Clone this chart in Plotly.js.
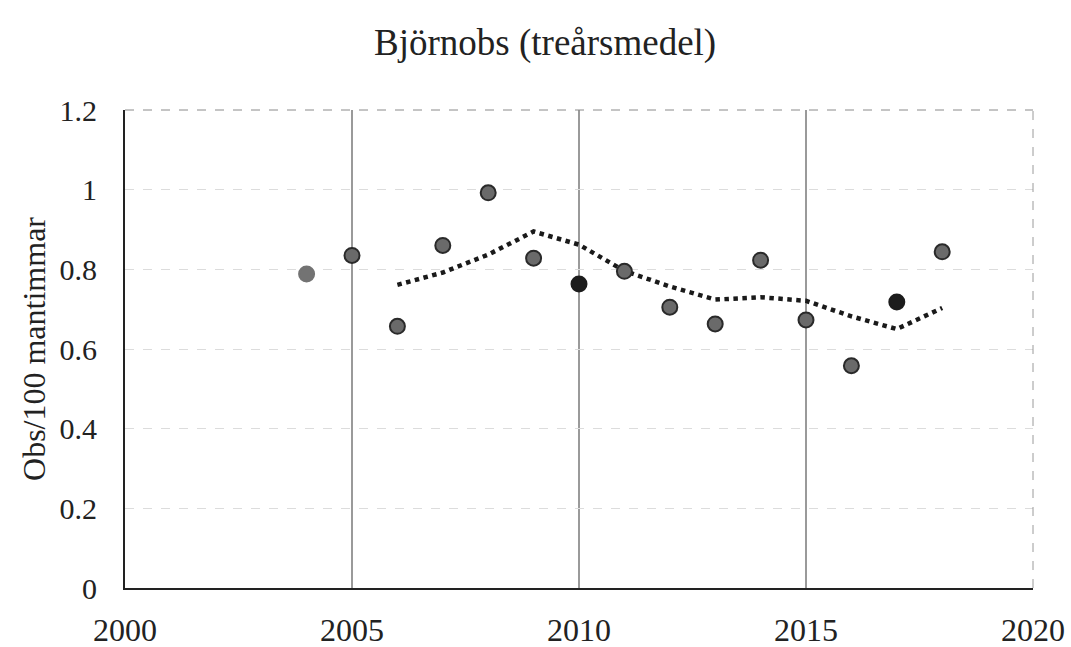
<!DOCTYPE html>
<html>
<head>
<meta charset="utf-8">
<script src="https://cdn.plot.ly/plotly-3.0.1.min.js"></script>
<style>html,body{margin:0;padding:0;background:#fff;}#chart{width:1071px;height:647px;}</style>
</head>
<body>
<div id="chart"></div>
<script>
// Observed values per year (Obs/100 mantimmar)
const years = [2004, 2005, 2006, 2007, 2008, 2009, 2010, 2011, 2012, 2013, 2014, 2015, 2016, 2017, 2018];
const obs   = [0.788, 0.835, 0.657, 0.860, 0.992, 0.828, 0.763, 0.795, 0.705, 0.663, 0.823, 0.673, 0.558, 0.718, 0.844];
// Point shade groups: light gray (2004), gray with ring, black (2010, 2017)
const pointKind = ['light','ring','ring','ring','ring','ring','black','ring','ring','ring','ring','ring','ring','black','ring'];
// Three-year mean (dotted line)
const trendYears = [2006, 2007, 2008, 2009, 2010, 2011, 2012, 2013, 2014, 2015, 2016, 2017, 2018];
const trendVals  = [0.761, 0.792, 0.837, 0.895, 0.862, 0.796, 0.757, 0.724, 0.730, 0.721, 0.682, 0.650, 0.703];
const xTicks = [2000, 2005, 2010, 2015, 2020];
const yTicks = [0, 0.2, 0.4, 0.6, 0.8, 1, 1.2];
const yTickText = ['0', '0.2', '0.4', '0.6', '0.8', '1', '1.2'];

const fillFor = {light: '#737373', ring: '#6a6a6a', black: '#1c1c1c'};
const lineFor = {light: '#737373', ring: '#2a2a2a', black: '#1c1c1c'};

const font = 'Liberation Serif, Times New Roman, serif';

const traces = [
  {
    x: trendYears, y: trendVals, type: 'scatter', mode: 'lines',
    line: {color: '#1a1a1a', width: 4.5, dash: 'dot'},
    hoverinfo: 'skip', showlegend: false
  },
  {
    x: years, y: obs, type: 'scatter', mode: 'markers',
    marker: {
      size: 15,
      color: pointKind.map(k => fillFor[k]),
      line: {color: pointKind.map(k => lineFor[k]), width: 2}
    },
    showlegend: false
  }
];

const layout = {
  width: 1071, height: 647,
  paper_bgcolor: '#ffffff', plot_bgcolor: '#ffffff',
  margin: {l: 125, r: 38, t: 110, b: 59},
  font: {family: font, color: '#222'},
  title: {
    text: 'Björnobs (treårsmedel)',
    font: {family: font, size: 37, color: '#222'},
    x: 0.509, xanchor: 'center', y: 0.935, yanchor: 'middle'
  },
  xaxis: {
    range: [2000, 2020],
    tickmode: 'array', tickvals: xTicks, ticktext: xTicks.map(String),
    ticks: 'outside', ticklen: 13, tickcolor: 'rgba(0,0,0,0)',
    tickfont: {family: font, size: 32, color: '#222'},
    showgrid: true, gridcolor: '#9a9a9a', gridwidth: 1.2,
    showline: true, linecolor: '#222', linewidth: 2,
    zeroline: false, fixedrange: true
  },
  yaxis: {
    range: [0, 1.2],
    tickmode: 'array', tickvals: yTicks, ticktext: yTickText,
    ticks: 'outside', ticklen: 20, tickcolor: 'rgba(0,0,0,0)',
    tickfont: {family: font, size: 30, color: '#222'},
    showgrid: true, gridcolor: '#dcdcdc', gridwidth: 1, griddash: 'dash',
    showline: true, linecolor: '#222', linewidth: 2,
    zeroline: false, fixedrange: true,
    title: {text: 'Obs/100 mantimmar', font: {family: font, size: 32, color: '#222'}, standoff: 4}
  },
  shapes: [
    {type: 'line', xref: 'paper', yref: 'paper', x0: 0, x1: 1, y0: 1, y1: 1,
     line: {color: '#8a8a8a', width: 1, dash: 'dash'}},
    {type: 'line', xref: 'paper', yref: 'paper', x0: 1, x1: 1, y0: 0, y1: 1,
     line: {color: '#9a9a9a', width: 1, dash: 'dash'}}
  ]
};

Plotly.newPlot('chart', traces, layout, {displayModeBar: false, staticPlot: true});
</script>
</body>
</html>
